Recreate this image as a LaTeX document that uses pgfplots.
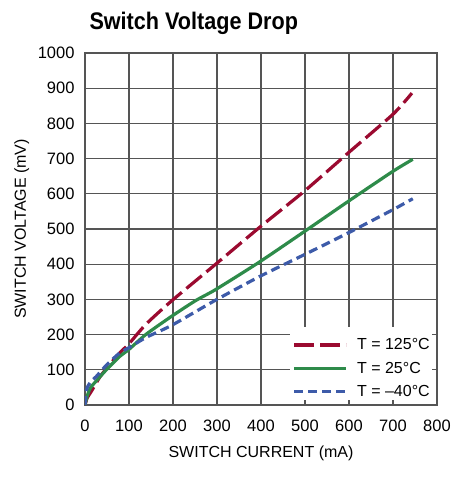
\documentclass[border=0pt]{standalone}
\usepackage{fontspec}
\setmainfont{Liberation Sans}
\newfontfamily\titlefont{Liberation Sans}[FakeStretch=0.9]
\usepackage{pgfplots}
\pgfplotsset{compat=1.18}
\definecolor{cred}{HTML}{9B0A30}
\definecolor{cgreen}{HTML}{2E8B4A}
\definecolor{cblue}{HTML}{3D5BA9}
\definecolor{gridc}{HTML}{555555}
\begin{document}
\begin{tikzpicture}
\useasboundingbox (-85pt,-82pt) rectangle (381pt,405pt);
\begin{axis}[
  at={(0pt,0pt)}, anchor=origin,
  scale only axis, width=352pt, height=352pt,
  xmin=0, xmax=800, ymin=0, ymax=1000,
  xtick={0,100,...,800}, ytick={0,100,...,1000},
  grid=major,
  major grid style={gridc, line width=1.3pt},
  axis line style={gridc, line width=1.7pt},
  major tick length=0pt,
  tick label style={font=\fontsize{16.5}{18}\selectfont},
  /pgf/number format/assume math mode=true,
  /pgf/number format/1000 sep={},
  xticklabel style={yshift=-11pt},
  yticklabel style={xshift=-7pt},
  xlabel={SWITCH CURRENT (mA)},
  ylabel={SWITCH VOLTAGE (mV)},
  label style={font=\fontsize{16}{18}\selectfont},
  xlabel style={at={(axis description cs:0.5,0)}, anchor=base, yshift=-52pt},
  ylabel style={at={(axis description cs:0,0.5)}, anchor=base, rotate=0, yshift=59pt},
  legend cell align=left,
  legend style={draw=none, fill=none, at={(axis cs:472,189)}, anchor=north west,
    inner sep=0pt, row sep=10.5pt, font=\fontsize{16}{18}\selectfont,
    nodes={inner sep=0pt, anchor=west}},
  legend image code/.code={\draw[#1] (0pt,0pt) -- (52pt,0pt);},
  title style={font=\titlefont\bfseries\fontsize{24}{26}\selectfont, anchor=base west, at={(axis description cs:0,1)}, xshift=1pt, yshift=17pt},
  title={Switch Voltage Drop},
]
\fill[white] (axis cs:466,14) rectangle (axis cs:789,222);
\addplot[cred, line width=3.2pt, dash pattern=on 20pt off 6pt, smooth, tension=0.4] coordinates {
(0,0) (5,20) (15,40) (34,80) (56,115) (79,148) (100,174) (139,230) (198,297) (297,400) (400,508) (500,609) (600,718) (700,826) (743,886)};
\addlegendentry{\hspace{9pt}T = 125°C}
\addplot[cgreen, line width=3.2pt, smooth, tension=0.4] coordinates {
(0,0) (5,25) (12,48) (26,69) (50,102) (79,138) (100,158) (139,201) (198,253) (252,297) (297,328) (395,405) (500,494) (600,580) (700,664) (745,698)};
\addlegendentry{\hspace{9pt}T = 25°C}
\addplot[cblue, line width=3.2pt, dash pattern=on 9pt off 5pt, smooth, tension=0.4] coordinates {
(0,0) (2,30) (5,50) (15,69) (25,80) (50,115) (79,148) (100,163) (139,192) (198,227) (297,298) (400,367) (500,428) (600,490) (700,555) (745,586)};
\addlegendentry{\hspace{9pt}T = –40°C}
\node[anchor=east, font=\fontsize{9}{10}\selectfont] at (rel axis cs:1,0) [yshift=-78pt] {3596 G09};
\end{axis}
\end{tikzpicture}
\end{document}
